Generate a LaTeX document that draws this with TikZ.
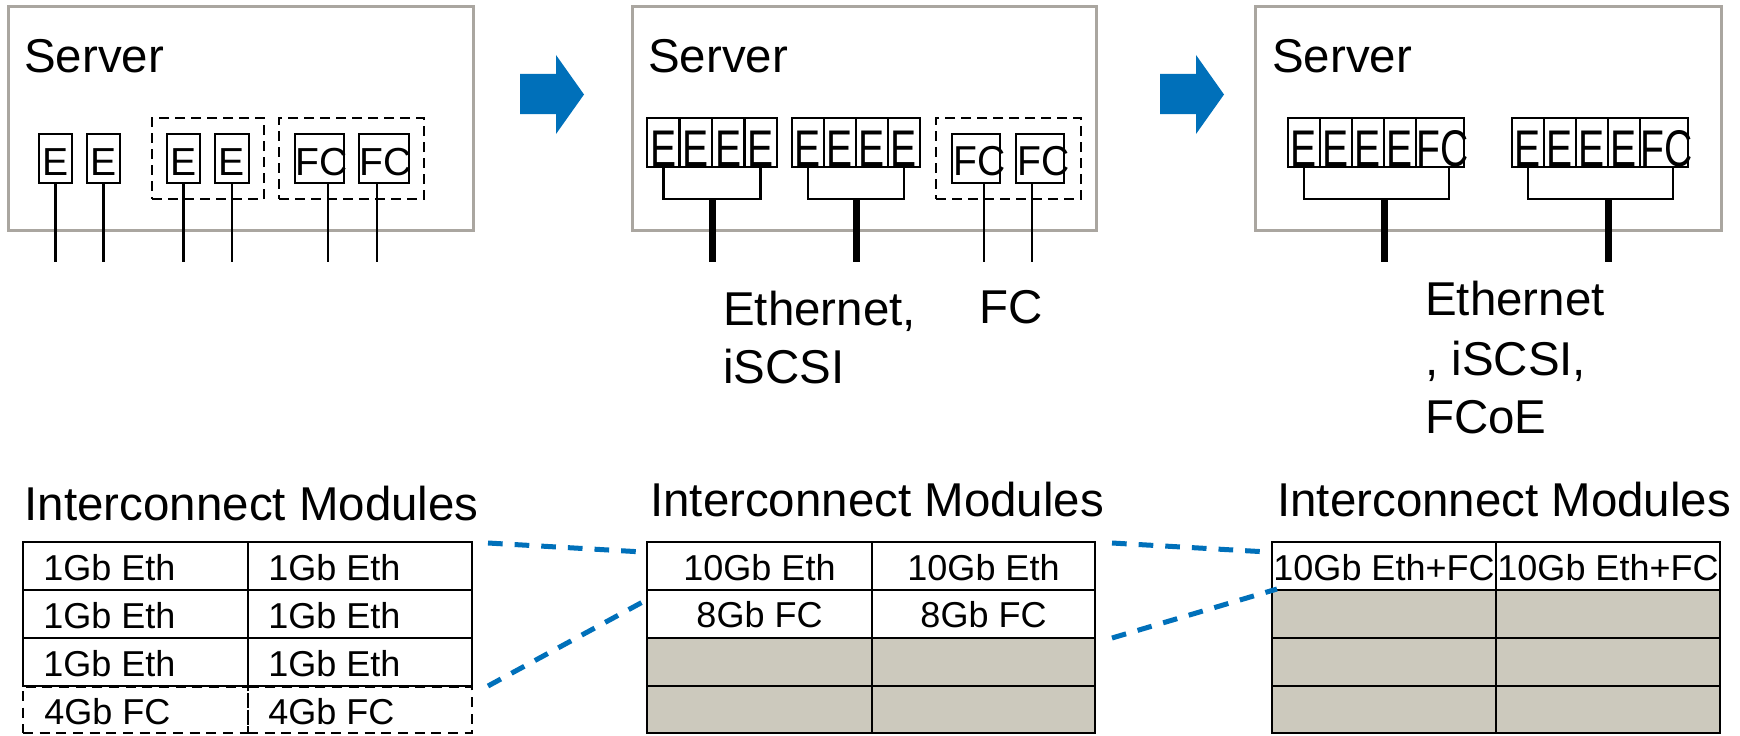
\documentclass[tikz,border=0pt]{standalone}
\usepackage{fontspec}
\setmainfont{Liberation Sans}
\usetikzlibrary{fit}

\definecolor{arrowblue}{RGB}{0,112,186}
\definecolor{frame}{RGB}{170,166,160}
\definecolor{slot}{RGB}{204,201,189}

% a rectangle given by two corners, as a named node
\newcommand\cellnode[6][]{\node[#1, fit={(#3,#4) (#5,#6)}] (#2) {};}

\tikzset{
  chassis/.style={draw=frame, line width=2.25pt, inner sep=0pt, outer sep=0pt},
  port/.style={draw, line width=2.1pt, inner sep=0pt, outer sep=0pt},
  group/.style={draw, line width=2.1pt, dash pattern=on 7.5pt off 4.5pt, inner sep=0pt, outer sep=0pt},
  tcell/.style={draw, line width=1.9pt, inner sep=0pt, outer sep=0pt},
  slotcell/.style={tcell, fill=slot},
  dcell/.style={draw, line width=1.9pt, dash pattern=on 7.5pt off 5pt, inner sep=0pt, outer sep=0pt},
  heading/.style={font=\fontsize{35.6}{42}\selectfont, inner sep=0pt, anchor=base west},
  etxt/.style={font=\fontsize{29.3}{34}\selectfont, inner sep=0pt, anchor=base},
  fctxt/.style={font=\fontsize{29.3}{34}\selectfont, inner sep=0pt, anchor=base west},
  ttxt/.style={font=\fontsize{27}{32}\selectfont, inner sep=0pt, anchor=base},
  tltxt/.style={font=\fontsize{27}{32}\selectfont, inner sep=0pt, anchor=base west},
  wire/.style={line width=2.1pt},
  trunk/.style={line width=5.25pt},
  link/.style={draw=arrowblue, line width=3.75pt, dash pattern=on 11pt off 9pt},
}

\begin{document}
\begin{tikzpicture}[x=0.75pt,y=-0.75pt]
\useasboundingbox (0,0) rectangle (1740,735);

% ---------- server chassis ----------
\cellnode[chassis]{srvA}{8}{7}{473}{230}
\cellnode[chassis]{srvB}{632}{7}{1096}{230}
\cellnode[chassis]{srvC}{1255}{7}{1721}{230}
\node[heading] (srvAt) at (24,73) {Server};
\node[heading] (srvBt) at (648,73) {Server};
\node[heading] (srvCt) at (1272,73) {Server};

% ---------- transition arrows ----------
\fill[arrowblue] (520,74) -- (556,74) -- (556,55) -- (584,94.5) -- (556,134) -- (556,114) -- (520,114) -- cycle;
\fill[arrowblue] (1160,74) -- (1196,74) -- (1196,55) -- (1224,94.5) -- (1196,134) -- (1196,114) -- (1160,114) -- cycle;

% ---------- first server: separate adapters ----------
\cellnode[group]{mezzA}{152}{118}{264}{199}
\cellnode[group]{mezzB}{279}{118}{424}{199}
\cellnode[port]{p1}{39}{134}{72}{183}
\cellnode[port]{p2}{87}{134}{120}{183}
\cellnode[port]{p3}{167}{134}{200}{183}
\cellnode[port]{p4}{215}{134}{249}{183}
\cellnode[port]{p5}{295}{134}{344}{183}
\cellnode[port]{p6}{359}{134}{409}{183}
\foreach \n in {p1,p2,p3,p4}
  \node[etxt] (\n t) at ([shift={(0,-8)}]\n.south) {E};
\foreach \n in {p5,p6}
  \node[fctxt] (\n t) at ([shift={(0,-8)}]\n.south west) {FC};

\foreach \n in {p1,p2,p3,p4} {
  \coordinate (\n end) at ([shift={(0,79)}]\n.south);
  \draw[wire] (\n.south) -- (\n end);
}
\coordinate (p5s) at ([shift={(33,0)}]p5.south west);
\coordinate (p6s) at ([shift={(18,0)}]p6.south west);
\coordinate (p5end) at ([shift={(0,79)}]p5s);
\coordinate (p6end) at ([shift={(0,79)}]p6s);
\draw[wire] (p5s) -- (p5end);
\draw[wire] (p6s) -- (p6end);

% ---------- second server: 10Gb NICs + FC HBA ----------
\cellnode[group]{mezzC}{936}{118}{1081}{199}
\cellnode[port]{a1}{647}{118}{679.5}{167}
\cellnode[port]{a2}{679.5}{118}{712}{167}
\cellnode[port]{a3}{712}{118}{744.5}{167}
\cellnode[port]{a4}{744.5}{118}{777}{167}
\cellnode[port]{b1}{792}{118}{824}{167}
\cellnode[port]{b2}{824}{118}{856}{167}
\cellnode[port]{b3}{856}{118}{888}{167}
\cellnode[port]{b4}{888}{118}{920}{167}
\foreach \n in {a1,a2,a3,a4,b1,b2,b3,b4}
  \node[etxt] (\n t) at ([shift={(0,-1)}]\n.south) {\scalebox{1}[1.32]{E}};
\cellnode[port]{f1}{952}{134}{1000}{183}
\cellnode[port]{f2}{1016}{134}{1064}{183}
\node[fctxt] (f1t) at ([shift={(1,-8)}]f1.south west) {\scalebox{1}[1.07]{FC}};
\node[fctxt] (f2t) at ([shift={(1,-8)}]f2.south west) {\scalebox{1}[1.07]{FC}};

\draw[wire] (a1.south) |- ([shift={(0,32)}]a4.south) -- (a4.south);
\draw[wire] (b1.south) |- ([shift={(0,32)}]b4.south) -- (b4.south);
\coordinate (hubA) at ([shift={(0,32)}]a2.south east);
\coordinate (hubAend) at ([shift={(0,95)}]a2.south east);
\coordinate (hubB) at ([shift={(0,32)}]b2.south east);
\coordinate (hubBend) at ([shift={(0,95)}]b2.south east);
\draw[trunk] (hubA) -- (hubAend);
\draw[trunk] (hubB) -- (hubBend);
\coordinate (f1s) at ([shift={(32,0)}]f1.south west);
\coordinate (f2s) at ([shift={(16,0)}]f2.south west);
\coordinate (f1end) at ([shift={(0,79)}]f1s);
\coordinate (f2end) at ([shift={(0,79)}]f2s);
\draw[wire] (f1s) -- (f1end);
\draw[wire] (f2s) -- (f2end);

\node[heading] (lblB1) at (723,325) {Ethernet,};
\node[heading] (lblB2) at (723,383) {iSCSI};
\node[heading] (lblF) at (979,323) {FC};

% ---------- third server: converged adapters ----------
\cellnode[port]{c1}{1288}{118}{1320}{167}
\cellnode[port]{c2}{1320}{118}{1352}{167}
\cellnode[port]{c3}{1352}{118}{1384}{167}
\cellnode[port]{c4}{1384}{118}{1416}{167}
\cellnode[port]{c5}{1416}{118}{1464}{167}
\cellnode[port]{d1}{1512}{118}{1544}{167}
\cellnode[port]{d2}{1544}{118}{1576}{167}
\cellnode[port]{d3}{1576}{118}{1608}{167}
\cellnode[port]{d4}{1608}{118}{1640}{167}
\cellnode[port]{d5}{1640}{118}{1688}{167}
\foreach \n in {c1,c2,c3,c4,d1,d2,d3,d4}
  \node[etxt] (\n t) at ([shift={(0,-1)}]\n.south) {\scalebox{1}[1.32]{E}};
\node[fctxt] (c5t) at ([shift={(0,-1)}]c5.south west) {\scalebox{1}[1.32]{FC}};
\node[fctxt] (d5t) at ([shift={(0,-1)}]d5.south west) {\scalebox{1}[1.32]{FC}};

\draw[wire] (c1.south) |- ([shift={(9,32)}]c5.south) -- ([shift={(9,0)}]c5.south);
\draw[wire] (d1.south) |- ([shift={(9,32)}]d5.south) -- ([shift={(9,0)}]d5.south);
\coordinate (hubC) at ([shift={(0,32)}]c3.south east);
\coordinate (hubCend) at ([shift={(0,95)}]c3.south east);
\coordinate (hubD) at ([shift={(0,32)}]d3.south east);
\coordinate (hubDend) at ([shift={(0,95)}]d3.south east);
\draw[trunk] (hubC) -- (hubCend);
\draw[trunk] (hubD) -- (hubDend);

\node[heading] (lblC1) at (1425,315) {Ethernet};
\node[heading] (lblC2) at (1425,375) {, iSCSI,};
\node[heading] (lblC3) at (1425,433) {FCoE};

% ---------- interconnect module tables ----------
\node[heading] (imA) at (24.5,520) {Interconnect Modules};
\node[heading] (imB) at (650,516) {Interconnect Modules};
\node[heading] (imC) at (1277,516) {Interconnect Modules};

% first table
\cellnode[tcell]{ta1}{23}{542}{248}{590}
\cellnode[tcell]{ta2}{248}{542}{472}{590}
\cellnode[tcell]{ta3}{23}{590}{248}{638}
\cellnode[tcell]{ta4}{248}{590}{472}{638}
\cellnode[tcell]{ta5}{23}{638}{248}{686}
\cellnode[tcell]{ta6}{248}{638}{472}{686}
\cellnode[dcell]{ta7}{23}{687}{248}{733}
\cellnode[dcell]{ta8}{248}{687}{472}{733}
\foreach \n in {ta1,ta3,ta5}
  \node[tltxt] (\n t) at ([shift={(20,-10)}]\n.south west) {1Gb Eth};
\foreach \n in {ta2,ta4,ta6}
  \node[tltxt] (\n t) at ([shift={(20,-10)}]\n.south west) {1Gb Eth};
\node[tltxt] (ta7t) at ([shift={(21,-9)}]ta7.south west) {4Gb FC};
\node[tltxt] (ta8t) at ([shift={(20,-9)}]ta8.south west) {4Gb FC};

% second table
\cellnode[tcell]{tb1}{647}{542}{872}{590}
\cellnode[tcell]{tb2}{872}{542}{1095}{590}
\cellnode[tcell]{tb3}{647}{590}{872}{638}
\cellnode[tcell]{tb4}{872}{590}{1095}{638}
\cellnode[slotcell]{tb5}{647}{638}{872}{686}
\cellnode[slotcell]{tb6}{872}{638}{1095}{686}
\cellnode[slotcell]{tb7}{647}{686}{872}{733}
\cellnode[slotcell]{tb8}{872}{686}{1095}{733}
\node[ttxt] (tb1t) at ([shift={(0,-10)}]tb1.south) {10Gb Eth};
\node[ttxt] (tb2t) at ([shift={(0,-10)}]tb2.south) {10Gb Eth};
\node[ttxt] (tb3t) at ([shift={(0,-11)}]tb3.south) {8Gb FC};
\node[ttxt] (tb4t) at ([shift={(0,-11)}]tb4.south) {8Gb FC};

% third table
\cellnode[tcell]{tc1}{1272}{542}{1496}{590}
\cellnode[tcell]{tc2}{1496}{542}{1720}{590}
\cellnode[slotcell]{tc3}{1272}{590}{1496}{638}
\cellnode[slotcell]{tc4}{1496}{590}{1720}{638}
\cellnode[slotcell]{tc5}{1272}{638}{1496}{686}
\cellnode[slotcell]{tc6}{1496}{638}{1720}{686}
\cellnode[slotcell]{tc7}{1272}{686}{1496}{733}
\cellnode[slotcell]{tc8}{1496}{686}{1720}{733}
\node[ttxt] (tc1t) at ([shift={(0,-10)}]tc1.south) {10Gb Eth+FC};
\node[ttxt] (tc2t) at ([shift={(0,-10)}]tc2.south) {10Gb Eth+FC};

% ---------- zoom links between tables ----------
\draw[link] ([shift={(16,1)}]ta2.north east) -- ([shift={(-4,10)}]tb1.north west);
\draw[link] ([shift={(16,0)}]ta6.south east) -- ([shift={(3,8)}]tb3.north west);
\draw[link] ([shift={(17,1)}]tb2.north east) -- ([shift={(-4,10)}]tc1.north west);
\draw[link] ([shift={(17,0)}]tb4.south east) -- ([shift={(5,-1)}]tc1.south west);
\end{tikzpicture}
\end{document}
